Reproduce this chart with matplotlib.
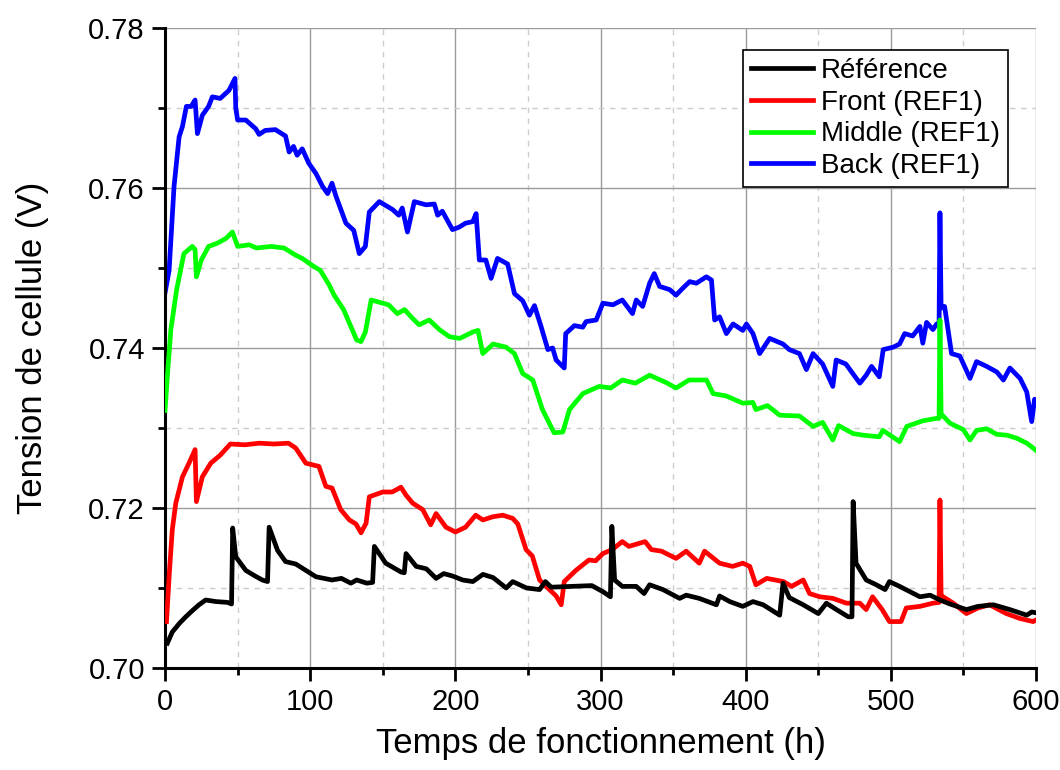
import numpy as np
import matplotlib
matplotlib.use('Agg')
import matplotlib.pyplot as plt
from matplotlib.ticker import MultipleLocator

plt.rcParams['font.family'] = ['Liberation Sans', 'DejaVu Sans']

# Référence (black)
t_ref = [1.6, 5, 10, 14.3, 19, 23.4, 28, 35, 43, 45.8, 46.6, 48.7, 55.6, 62, 67, 70.6, 71.7, 77.5, 83,
         90, 97, 104, 115, 121.5, 128, 132, 139, 143, 144.2, 152, 162.5, 164.8, 166, 173, 180, 186.7,
         192, 198, 205, 212, 219, 226, 235, 239.5, 249, 258, 262, 266, 280, 294, 302, 306.8, 307.8,
         309.7, 315, 320, 324.6, 330, 333.8, 343, 354.5, 359, 368, 379.8, 382, 389, 398, 405, 412,
         423.4, 425.7, 430, 439.6, 450, 455.6, 462.5, 470.6, 473.2, 474, 476, 483, 490, 496, 499,
         506, 520, 527, 533.8, 540.7, 552, 560, 570.6, 582, 593.6, 597, 600]
v_ref = [0.7031, 0.7045, 0.7056, 0.7064, 0.7072, 0.7079, 0.7085, 0.7083, 0.7082, 0.7080, 0.7175,
         0.7139, 0.7122, 0.7115, 0.7110, 0.7108, 0.7176, 0.7147, 0.7133, 0.7130, 0.7122, 0.7114,
         0.7110, 0.7112, 0.7106, 0.7110, 0.7106, 0.7107, 0.7152, 0.7131, 0.7120, 0.7119, 0.7143,
         0.7127, 0.7124, 0.7112, 0.7118, 0.7115, 0.7110, 0.7108, 0.7117, 0.7113, 0.7100, 0.7108,
         0.7100, 0.7098, 0.7108, 0.7101, 0.7102, 0.7103, 0.7095, 0.7089, 0.7177, 0.7110, 0.7102,
         0.7102, 0.7102, 0.7093, 0.7104, 0.7098, 0.7087, 0.7091, 0.7087, 0.7079, 0.7090, 0.7083,
         0.7077, 0.7083, 0.7079, 0.7066, 0.7106, 0.7088, 0.7079, 0.7068, 0.7081, 0.7073, 0.7064,
         0.7064, 0.7208, 0.7131, 0.7110, 0.7104, 0.7098, 0.7108, 0.7102, 0.7089, 0.7091, 0.7085,
         0.7080, 0.7073, 0.7077, 0.7079, 0.7073, 0.7066, 0.7070, 0.7069]

# Front (REF1) (red)
t_front = [1, 3, 5, 7.4, 12, 16.5, 20.7, 21.6, 25.7, 31.5, 38, 45, 55, 65, 75, 85, 90, 97, 106, 110.8,
           115, 121, 127, 131.5, 135, 138.5, 140.7, 150, 156.5, 162.5, 166, 170.6, 177.5, 183, 186.7,
           193.5, 200, 207, 214, 219, 225.7, 232.6, 239.5, 243, 248.7, 253, 258, 264.8, 269.4, 272.9,
           275, 283, 292, 296.6, 301.6, 308, 315, 319.5, 330.7, 335, 342, 352, 359, 368, 371.7, 382,
           391, 398, 402.8, 407, 414.5, 426, 431.6, 439.6, 444, 451, 460, 469.4, 478.6, 483, 487.4,
           494, 499, 507, 510.6, 520, 529, 533.2, 533.8, 534.6, 536, 543, 552, 560, 568, 579.5,
           588.7, 598, 600]
v_front = [0.7058, 0.7120, 0.7173, 0.7206, 0.7239, 0.7256, 0.7273, 0.7208, 0.7239, 0.7256, 0.7266,
           0.7280, 0.7279, 0.7281, 0.7280, 0.7281, 0.7275, 0.7256, 0.7252, 0.7227, 0.7225, 0.7198,
           0.7185, 0.7180, 0.7169, 0.7181, 0.7214, 0.7220, 0.7220, 0.7226, 0.7216, 0.7206, 0.7198,
           0.7179, 0.7193, 0.7176, 0.7170, 0.7176, 0.7191, 0.7185, 0.7189, 0.7191, 0.7187, 0.7180,
           0.7148, 0.7140, 0.7110, 0.7098, 0.7090, 0.7079, 0.7108, 0.7122, 0.7135, 0.7134, 0.7143,
           0.7148, 0.7158, 0.7152, 0.7158, 0.7148, 0.7146, 0.7137, 0.7146, 0.7131, 0.7146, 0.7131,
           0.7127, 0.7131, 0.7127, 0.7104, 0.7112, 0.7108, 0.7102, 0.7110, 0.7093, 0.7089, 0.7087,
           0.7081, 0.7081, 0.7073, 0.7089, 0.7073, 0.7058, 0.7058, 0.7075, 0.7077, 0.7081, 0.7082,
           0.7210, 0.7090, 0.7089, 0.7081, 0.7068, 0.7075, 0.7079, 0.7068, 0.7062, 0.7058, 0.7060]

# Middle (REF1) (green)
t_middle = [0, 2, 4, 8, 13, 18.8, 20.7, 21.6, 25, 30, 36, 42, 46.4, 50, 58, 63, 73, 82, 90, 94.5,
            101.6, 107, 113, 116.5, 123, 132, 135, 138, 142, 148, 154, 160, 165, 170, 175, 182, 189,
            196, 203, 212, 215.6, 218.9, 226, 235, 240.7, 246.4, 253.3, 260, 268, 274, 278.6, 287.8,
            299, 307, 315, 324, 333.8, 345, 352, 361, 373, 377.5, 386.7, 398, 405, 407, 415, 423.4,
            437, 446.4, 453, 460, 464, 474, 481, 492, 494.5, 506, 511, 522, 531.5, 533.2, 533.8,
            534.6, 536, 540.7, 549.9, 554.5, 559, 566, 573, 580, 587, 593.6, 598, 600]
v_middle = [0.7322, 0.7375, 0.7423, 0.7473, 0.7518, 0.7527, 0.7523, 0.7489, 0.7510, 0.7527, 0.7531,
            0.7537, 0.7545, 0.7527, 0.7529, 0.7525, 0.7527, 0.7525, 0.7516, 0.7512, 0.7503, 0.7497,
            0.7479, 0.7466, 0.7448, 0.7410, 0.7408, 0.7420, 0.7460, 0.7457, 0.7454, 0.7443, 0.7448,
            0.7438, 0.7429, 0.7435, 0.7423, 0.7414, 0.7412, 0.7420, 0.7422, 0.7393, 0.7405, 0.7401,
            0.7393, 0.7368, 0.7360, 0.7323, 0.7294, 0.7295, 0.7323, 0.7343, 0.7352, 0.7350, 0.7360,
            0.7356, 0.7366, 0.7357, 0.7350, 0.7360, 0.7360, 0.7343, 0.7340, 0.7331, 0.7332, 0.7323,
            0.7328, 0.7316, 0.7315, 0.7302, 0.7307, 0.7285, 0.7303, 0.7293, 0.7291, 0.7289, 0.7297,
            0.7283, 0.7302, 0.7309, 0.7312, 0.7312, 0.7435, 0.7318, 0.7315, 0.7306, 0.7298, 0.7285,
            0.7297, 0.7299, 0.7292, 0.7291, 0.7287, 0.7281, 0.7275, 0.7272]

# Back (REF1) (blue)
t_back = [0, 2.8, 6.2, 9.7, 12, 14.7, 18, 20.7, 22.3, 25.7, 30, 32.6, 38, 44, 48.2, 48.7, 50, 55.6,
          62.5, 64.8, 69, 76, 83, 85.5, 88.5, 91, 94.5, 99, 104, 108.5, 112, 115, 117.7, 124.6, 130,
          133.8, 138, 140.7, 147.6, 156.8, 161, 163.4, 167, 171.7, 179.8, 185.5, 187.8, 191, 198,
          202.5, 207, 212, 214.3, 216.5, 221, 224.6, 229, 236, 240.7, 246.4, 251, 254.5, 259, 263.7,
          267, 269.4, 275, 276, 282, 287.8, 290, 297, 301.6, 308.5, 315, 322, 324.6, 329, 333.8,
          337, 340.7, 347.6, 352, 356.8, 361.4, 366, 372.9, 376.4, 378.6, 382, 386.7, 391.3, 398,
          400.5, 405, 409.6, 416.5, 425.7, 430, 437, 441.8, 446.4, 453, 460, 462.3, 469, 478.6, 483,
          486.7, 492, 494.7, 501.6, 506, 509.5, 515, 520, 522, 524.6, 529, 531.5, 533.2, 533.8,
          534.6, 537, 541.8, 547.5, 554.5, 559, 566, 573, 577.5, 582, 589, 593.6, 597, 599, 600]
v_back = [0.7469, 0.7497, 0.7602, 0.7664, 0.7677, 0.7702, 0.7702, 0.7710, 0.7668, 0.7691, 0.7702,
          0.7714, 0.7712, 0.7722, 0.7737, 0.7700, 0.7685, 0.7685, 0.7674, 0.7667, 0.7672, 0.7673,
          0.7665, 0.7645, 0.7652, 0.7641, 0.7649, 0.7631, 0.7618, 0.7602, 0.7593, 0.7606, 0.7590,
          0.7556, 0.7547, 0.7518, 0.7527, 0.7570, 0.7583, 0.7573, 0.7566, 0.7575, 0.7545, 0.7583,
          0.7579, 0.7580, 0.7566, 0.7571, 0.7548, 0.7551, 0.7556, 0.7558, 0.7568, 0.7510, 0.7510,
          0.7487, 0.7512, 0.7505, 0.7468, 0.7459, 0.7441, 0.7453, 0.7427, 0.7398, 0.7400, 0.7385,
          0.7375, 0.7418, 0.7428, 0.7426, 0.7433, 0.7435, 0.7456, 0.7454, 0.7460, 0.7443, 0.7460,
          0.7452, 0.7481, 0.7493, 0.7477, 0.7473, 0.7466, 0.7475, 0.7483, 0.7481, 0.7489, 0.7485,
          0.7435, 0.7439, 0.7418, 0.7430, 0.7422, 0.7430, 0.7418, 0.7393, 0.7412, 0.7405, 0.7398,
          0.7393, 0.7373, 0.7393, 0.7380, 0.7352, 0.7385, 0.7380, 0.7356, 0.7366, 0.7377, 0.7364,
          0.7398, 0.7401, 0.7405, 0.7418, 0.7415, 0.7427, 0.7406, 0.7432, 0.7423, 0.7430, 0.7430,
          0.7569, 0.7450, 0.7452, 0.7393, 0.7390, 0.7362, 0.7383, 0.7377, 0.7370, 0.7360, 0.7375,
          0.7362, 0.7345, 0.7308, 0.7336, 0.7330]

fig = plt.figure(figsize=(10.6, 7.7), dpi=100)
ax = fig.add_axes([0.1557, 0.1325, 0.8217, 0.8311])

lw = 3.4
ax.plot(t_ref, v_ref, color='black', lw=lw, label='Référence', zorder=5)
ax.plot(t_front, v_front, color='#ff0000', lw=lw, label='Front (REF1)', zorder=4)
ax.plot(t_middle, v_middle, color='#00ff00', lw=lw, label='Middle (REF1)', zorder=3)
ax.plot(t_back, v_back, color='#0000ff', lw=lw, label='Back (REF1)', zorder=2)

ax.set_xlim(0, 600)
ax.set_ylim(0.70, 0.78)
ax.xaxis.set_major_locator(MultipleLocator(100))
ax.xaxis.set_minor_locator(MultipleLocator(50))
ax.yaxis.set_major_locator(MultipleLocator(0.02))
ax.yaxis.set_minor_locator(MultipleLocator(0.01))
ax.set_yticklabels([f'{v:.2f}' for v in ax.get_yticks()])

ax.grid(which='major', color='#9a9a9a', lw=1.0, ls='-')
ax.grid(which='minor', color='#cccccc', lw=1.0, ls=(0, (4, 4)))
ax.set_axisbelow(True)

for s in ['top', 'right']:
    ax.spines[s].set_visible(False)
for s in ['left', 'bottom']:
    ax.spines[s].set_linewidth(2.2)
ax.tick_params(which='major', direction='out', length=9.5, width=2, labelsize=21, pad=5)
ax.tick_params(which='minor', direction='out', length=5, width=2)

ax.set_xlabel('Temps de fonctionnement (h)', fontsize=25, labelpad=8)
ax.set_ylabel('Tension de cellule (V)', fontsize=25, labelpad=28)

leg = ax.legend(loc='upper right', bbox_to_anchor=(0.968, 0.966), fontsize=20, frameon=True,
                fancybox=False, edgecolor='black', framealpha=1, borderpad=0.3,
                handlelength=2.2, handletextpad=0.3, labelspacing=0.2, borderaxespad=0)
leg.get_frame().set_linewidth(1.2)

fig.savefig('out.png', dpi=100)
